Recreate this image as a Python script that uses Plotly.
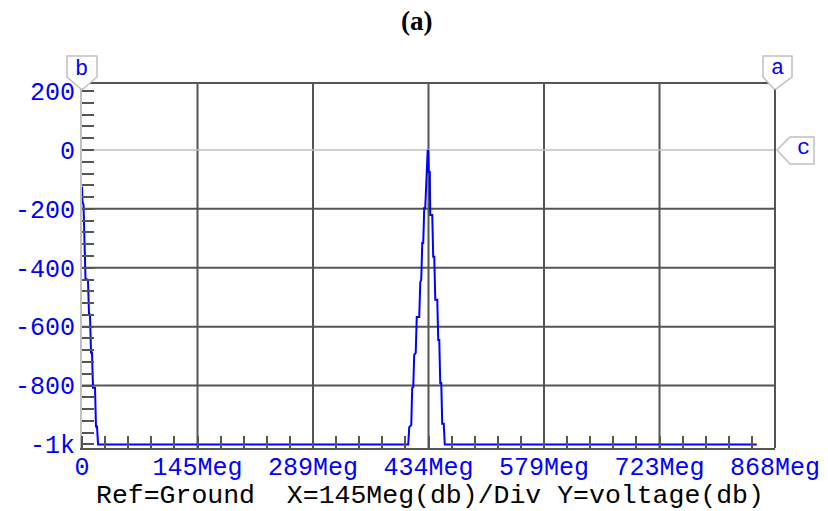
import plotly.graph_objects as go

# ---- data (frequency in MHz, voltage in dB) ----
freq_mhz = [0, 0.6, 1.9, 3.1, 4.4, 7.5, 8.8, 10.0, 11.3, 12.5, 13.8, 16.3, 17.5, 18.8, 20.1,
            408.6, 409.9, 412.4, 413.6, 414.9, 416.1, 418.0, 419.3, 422.4, 423.7, 424.9, 426.2,
            427.4, 428.7, 429.9, 431.2, 431.8, 433.0,
            433.7, 434.3, 435.6, 436.2, 438.7, 439.9, 441.2, 442.5, 445.0, 446.2, 447.5, 448.7,
            450.0, 451.2, 453.1, 454.4, 845.1]
voltage_db = [-125, -176, -186, -339, -437, -441, -559, -559, -688, -688, -807, -807, -939, -939, -1000,
              -1000, -941, -934, -808, -805, -696, -689, -567, -567, -448, -441, -316,
              -316, -197, -197, -75, -75, -3,
              -3, -75, -75, -221, -221, -363, -363, -509, -509, -645, -645, -791,
              -791, -930, -930, -1000, -1000]

x_tickvals = [0, 868 / 6, 2 * 868 / 6, 3 * 868 / 6, 4 * 868 / 6, 5 * 868 / 6, 868]
x_ticktext = ["0", "145Meg", "289Meg", "434Meg", "579Meg", "723Meg", "868Meg"]
y_tickvals = [-1000, -800, -600, -400, -200, 0, 200]
y_ticktext = ["-1k", "-800", "-600", "-400", "-200", "0", "200"]

x_range = [0, 868]
y_range = [-1012, 224]

title_text = "(a)"
footer_text = "Ref=Ground\u00a0\u00a0X=145Meg(db)/Div Y=voltage(db)"

BLUE = "#0000ff"
DARK = "#555555"
LIGHT = "#c0c0c0"
MONO = "Liberation Mono"

fig = go.Figure()
fig.add_trace(go.Scatter(x=freq_mhz, y=voltage_db, mode="lines",
                         line=dict(color=BLUE, width=2), hoverinfo="skip", showlegend=False))

shapes = []
# vertical grid lines
for xv in x_tickvals[1:-1]:
    shapes.append(dict(type="line", xref="x", yref="paper", x0=xv, x1=xv, y0=0, y1=1,
                       line=dict(color=DARK, width=2), layer="below"))
# horizontal grid lines
for yv in y_tickvals[1:5]:
    shapes.append(dict(type="line", xref="paper", yref="y", x0=0, x1=1, y0=yv, y1=yv,
                       line=dict(color=DARK, width=2), layer="below"))
# zero reference line (light)
y0_frac = (0 - y_range[0]) / (y_range[1] - y_range[0])
shapes.append(dict(type="line", xref="paper", yref="paper", x0=0, x1=1, y0=y0_frac, y1=y0_frac,
                   line=dict(color=LIGHT, width=1.5), layer="below"))
# right border
shapes.append(dict(type="line", xref="paper", yref="paper", x0=1, x1=1, y0=0, y1=1,
                   line=dict(color=DARK, width=2)))

# cursor markers (pixel sized)
def marker(xa, ya, path):
    return dict(type="path", xref="paper", yref="paper", xsizemode="pixel", ysizemode="pixel",
                xanchor=xa, yanchor=ya, path=path,
                line=dict(color=LIGHT, width=1.5), fillcolor="white", layer="above")

shapes.append(marker(0, 1, "M -15,28 L 15,28 L 15,7 L 1,-5 L -1,-5 L -15,7 Z"))
shapes.append(marker(1, 1, "M -12,28 L 17,28 L 17,7 L 1,-5 L -1,-5 L -12,7 Z"))
shapes.append(marker(1, y0_frac, "M 2,0 L 15,13 L 39,13 L 39,-14 L 15,-14 Z"))

annotations = [
    dict(text="b", xref="paper", yref="paper", x=0, y=1, xshift=-1, yshift=15,
         showarrow=False, font=dict(family=MONO, size=22, color=BLUE),
         xanchor="center", yanchor="middle"),
    dict(text="a", xref="paper", yref="paper", x=1, y=1, xshift=2, yshift=16,
         showarrow=False, font=dict(family=MONO, size=22, color=BLUE),
         xanchor="center", yanchor="middle"),
    dict(text="c", xref="paper", yref="paper", x=1, y=y0_frac, xshift=28, yshift=1,
         showarrow=False, font=dict(family=MONO, size=22, color=BLUE),
         xanchor="center", yanchor="middle"),
    dict(text=footer_text, xref="paper", yref="paper", x=0.502, y=-0.133,
         showarrow=False, font=dict(family=MONO, size=26.5, color="black"),
         xanchor="center", yanchor="middle"),
    dict(text="<b>" + title_text + "</b>", xref="paper", yref="paper", x=0.483, y=1.173,
         showarrow=False, font=dict(family="Liberation Serif", size=27, color="black"),
         xanchor="center", yanchor="middle"),
]

fig.update_layout(
    width=828, height=511,
    margin=dict(l=82, r=53, t=84, b=63, autoexpand=False),
    paper_bgcolor="white", plot_bgcolor="white",
    shapes=shapes, annotations=annotations,
    showlegend=False,
)
fig.update_xaxes(range=x_range, tickmode="array", tickvals=x_tickvals, ticktext=x_ticktext,
                 showgrid=False, zeroline=False, ticks="", automargin=False,
                 ticklabelstandoff=-5,
                 showline=True, linecolor=DARK, linewidth=2, mirror=True,
                 tickfont=dict(family=MONO, size=25, color=BLUE),
                 minor=dict(tickmode="linear", tick0=0, dtick=868 / 30, ticks="inside",
                            ticklen=12, tickcolor=DARK, tickwidth=1.5, showgrid=False))
fig.update_yaxes(range=y_range, tickmode="array", tickvals=y_tickvals, ticktext=y_ticktext,
                 showgrid=False, zeroline=False, ticks="", automargin=False,
                 showline=True, linecolor=LIGHT, linewidth=2,
                 tickfont=dict(family=MONO, size=25, color=BLUE),
                 minor=dict(tickmode="linear", tick0=0, dtick=40, ticks="inside",
                            ticklen=12, tickcolor=DARK, tickwidth=1.5, showgrid=False))

fig.write_html("out.html", config={"displayModeBar": False},
               post_script="document.body.style.margin='0';document.body.style.overflow='hidden';")
